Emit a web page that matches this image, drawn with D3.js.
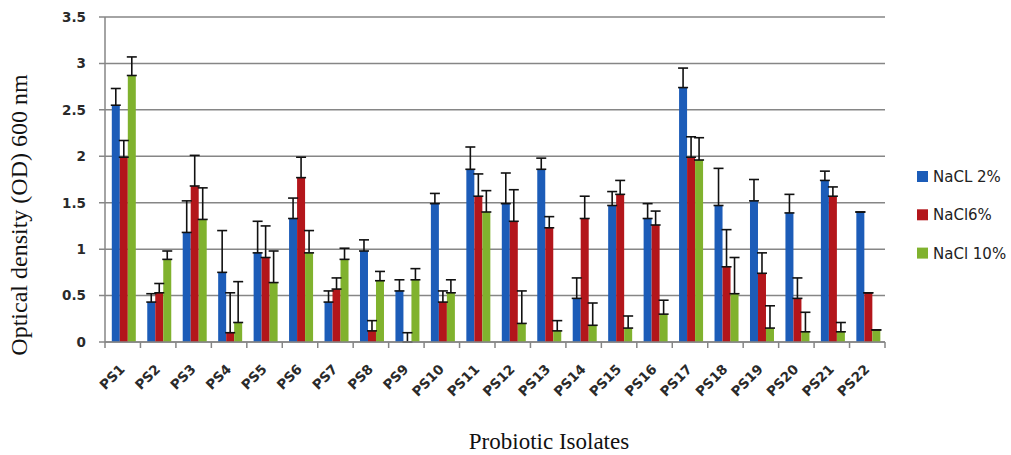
<!DOCTYPE html>
<html>
<head>
<meta charset="utf-8">
<script src="https://cdn.jsdelivr.net/npm/d3@7"></script>
<style>
  html, body { margin: 0; padding: 0; background: #fff; }
  svg { display: block; }
</style>
</head>
<body>
<svg id="chart" width="1011" height="455"></svg>
<script>
// Probiotic isolates tested for growth at three NaCl concentrations
const isolates = ["PS1","PS2","PS3","PS4","PS5","PS6","PS7","PS8","PS9","PS10","PS11",
                  "PS12","PS13","PS14","PS15","PS16","PS17","PS18","PS19","PS20","PS21","PS22"];
const seriesNames = ["NaCL 2%", "NaCl6%", "NaCl 10%"];

// Mean optical density at 600 nm
const nacl2  = [2.55,0.43,1.18,0.75,0.96,1.33,0.43,0.98,0.55,1.49,1.86,1.49,1.86,0.47,1.47,1.33,2.74,1.47,1.52,1.39,1.74,1.40];
const nacl6  = [1.99,0.53,1.68,0.10,0.91,1.77,0.57,0.12,0.00,0.43,1.57,1.30,1.23,1.33,1.59,1.26,1.99,0.81,0.74,0.47,1.57,0.53];
const nacl10 = [2.87,0.89,1.32,0.21,0.64,0.96,0.89,0.66,0.67,0.53,1.40,0.20,0.12,0.18,0.15,0.30,1.96,0.52,0.15,0.11,0.11,0.13];

// Standard deviations (upper error bars)
const err2  = [0.18,0.09,0.34,0.45,0.34,0.22,0.12,0.12,0.12,0.11,0.24,0.33,0.12,0.22,0.15,0.16,0.21,0.40,0.23,0.20,0.10,0.00];
const err6  = [0.18,0.10,0.33,0.43,0.34,0.22,0.12,0.11,0.10,0.12,0.24,0.34,0.12,0.24,0.15,0.15,0.22,0.40,0.22,0.22,0.10,0.00];
const err10 = [0.20,0.09,0.34,0.44,0.34,0.24,0.12,0.10,0.12,0.14,0.23,0.35,0.11,0.24,0.13,0.15,0.24,0.39,0.24,0.21,0.10,0.00];

const yTicks = [0, 0.5, 1, 1.5, 2, 2.5, 3, 3.5];
const colors = ["#1c5cb8", "#b3161b", "#80b22e"];

const values = [nacl2, nacl6, nacl10];
const errors = [err2, err6, err10];

const svg = d3.select("#chart");
const plot = { left: 105, right: 885, top: 17, bottom: 342 };

const x0 = d3.scaleBand().domain(isolates).range([plot.left, plot.right]).paddingInner(0).paddingOuter(0);
const x1 = d3.scaleBand().domain(seriesNames).range([0, 24]);
const y = d3.scaleLinear().domain([0, 3.5]).range([plot.bottom, plot.top]);
const groupOffset = 6.8;

const gridColor = "#868686";
const tickFont = "DejaVu Sans, sans-serif";

// horizontal gridlines with outside tick stubs
svg.append("g")
  .selectAll("line")
  .data(yTicks)
  .join("line")
  .attr("x1", plot.left - 6)
  .attr("x2", plot.right)
  .attr("y1", d => y(d))
  .attr("y2", d => y(d))
  .attr("stroke", gridColor)
  .attr("stroke-width", 1.5);

// y axis line
svg.append("line")
  .attr("x1", plot.left).attr("x2", plot.left)
  .attr("y1", y(3.5)).attr("y2", y(0))
  .attr("stroke", gridColor).attr("stroke-width", 1.5);

// y tick labels
svg.append("g")
  .selectAll("text")
  .data(yTicks)
  .join("text")
  .attr("x", plot.left - 19)
  .attr("y", d => y(d))
  .attr("dy", "0.36em")
  .attr("text-anchor", "end")
  .attr("font-family", tickFont)
  .attr("font-weight", "bold")
  .attr("font-size", 13.5)
  .attr("fill", "#2a2a2a")
  .text(d => d3.format("~g")(d));

// category boundary ticks under the x axis
const boundaries = isolates.map(d => x0(d)).concat([x0(isolates[isolates.length - 1]) + x0.bandwidth()]);
svg.append("g")
  .selectAll("line")
  .data(boundaries)
  .join("line")
  .attr("x1", d => d).attr("x2", d => d)
  .attr("y1", y(0)).attr("y2", y(0) + 6)
  .attr("stroke", gridColor).attr("stroke-width", 1.5);

// bars
const groups = svg.append("g")
  .selectAll("g")
  .data(isolates)
  .join("g")
  .attr("transform", d => `translate(${x0(d) + groupOffset},0)`);

groups.each(function(cat, i) {
  const g = d3.select(this);
  seriesNames.forEach((s, k) => {
    const v = values[k][i];
    g.append("rect")
      .attr("x", x1(s))
      .attr("y", y(v))
      .attr("width", x1.bandwidth())
      .attr("height", y(0) - y(v))
      .attr("fill", colors[k]);
  });
});

// error bars (upper, capped at both ends)
groups.each(function(cat, i) {
  const g = d3.select(this);
  seriesNames.forEach((s, k) => {
    const v = values[k][i];
    const e = errors[k][i];
    const cx = x1(s) + x1.bandwidth() / 2;
    const eb = g.append("g").attr("stroke", "#111").attr("stroke-width", 1.6);
    eb.append("line").attr("x1", cx).attr("x2", cx).attr("y1", y(v)).attr("y2", y(v + e));
    eb.append("line").attr("x1", cx - 5).attr("x2", cx + 5).attr("y1", y(v + e)).attr("y2", y(v + e));
    eb.append("line").attr("x1", cx - 5).attr("x2", cx + 5).attr("y1", y(v)).attr("y2", y(v));
  });
});

// x axis line
svg.append("line")
  .attr("x1", plot.left).attr("x2", plot.right)
  .attr("y1", y(0)).attr("y2", y(0))
  .attr("stroke", gridColor).attr("stroke-width", 1.5);

// rotated category labels
svg.append("g")
  .selectAll("text")
  .data(isolates)
  .join("text")
  .attr("transform", d => `translate(${x0(d) + x0.bandwidth() / 2 + 3},${y(0) + 28}) rotate(-45)`)
  .attr("text-anchor", "end")
  .attr("font-family", tickFont)
  .attr("font-weight", "bold")
  .attr("font-size", 13.5)
  .attr("fill", "#2a2a2a")
  .text(d => d);

// axis titles
svg.append("text")
  .attr("transform", "translate(27,215) rotate(-90)")
  .attr("text-anchor", "middle")
  .attr("font-family", "Liberation Serif, serif")
  .attr("font-size", 24)
  .attr("fill", "#111")
  .text("Optical density (OD) 600 nm");

svg.append("text")
  .attr("x", 549)
  .attr("y", 449)
  .attr("text-anchor", "middle")
  .attr("font-family", "Liberation Serif, serif")
  .attr("font-size", 23)
  .attr("fill", "#111")
  .text("Probiotic Isolates");

// legend
const legend = svg.append("g")
  .selectAll("g")
  .data(seriesNames)
  .join("g")
  .attr("transform", (d, k) => `translate(917,${176.5 + k * 38.3})`);

legend.append("rect")
  .attr("x", 0).attr("y", -5.5)
  .attr("width", 11).attr("height", 11)
  .attr("fill", (d, k) => colors[k]);

legend.append("text")
  .attr("x", 16)
  .attr("y", 0)
  .attr("dy", "0.36em")
  .attr("font-family", tickFont)
  .attr("font-size", 15)
  .attr("fill", "#222")
  .text(d => d);
</script>
</body>
</html>
